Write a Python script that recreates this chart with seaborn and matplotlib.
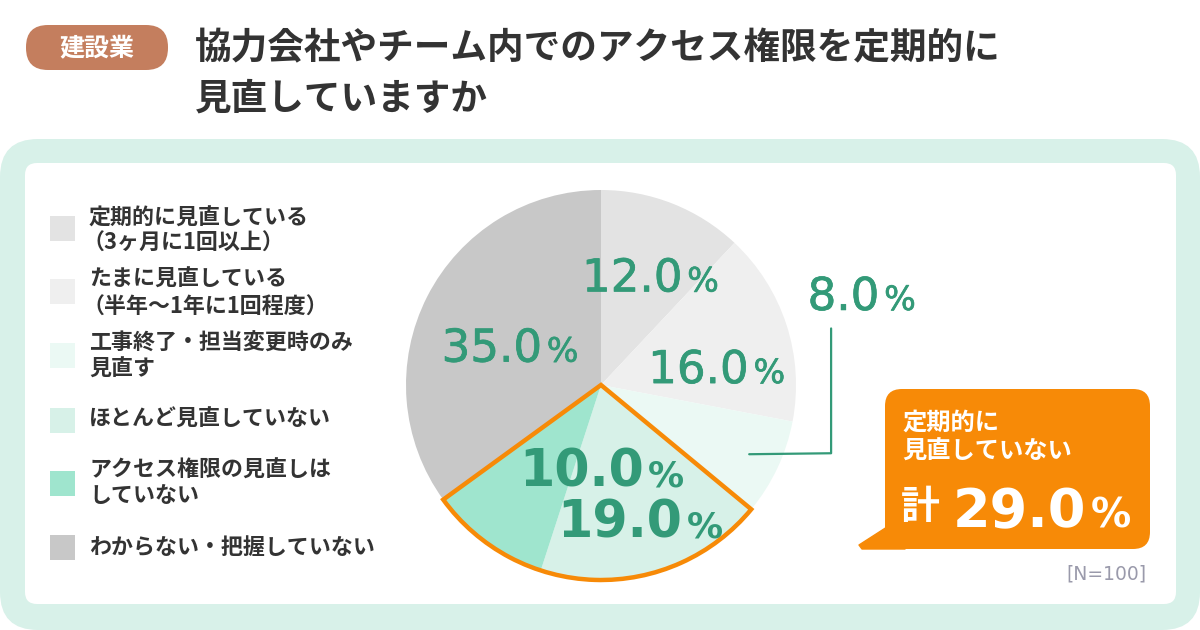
import numpy as np
import matplotlib
matplotlib.use("Agg")
import matplotlib.pyplot as plt
import matplotlib.patheffects as pe
from matplotlib.patches import FancyBboxPatch, Wedge, Rectangle, Polygon
import seaborn as sns

# ---------------- data ----------------
categories = [
    "定期的に見直している\n（3ヶ月に1回以上）",
    "たまに見直している\n（半年〜1年に1回程度）",
    "工事終了・担当変更時のみ\n見直す",
    "ほとんど見直していない",
    "アクセス権限の見直しは\nしていない",
    "わからない・把握していない",
]
values = [12.0, 16.0, 8.0, 19.0, 10.0, 35.0]
slice_colors = ["#e3e3e3", "#efefef", "#ebf9f4", "#d7f1e8", "#9fe5ce", "#c8c8c8"]
highlight_idx = [3, 4]
highlight_total = 29.0
badge_text = "建設業"
title_lines = ["協力会社やチーム内でのアクセス権限を定期的に", "見直していますか"]
callout_lines = ["定期的に", "見直していない"]
callout_prefix = "計"
n_text = "[N=100]"

# ---------------- style ----------------
sns.set_style("white")
plt.rcParams["font.family"] = ["Noto Sans CJK JP", "DejaVu Sans"]
palette = sns.color_palette(slice_colors)
GREEN = "#339a78"
ORANGE = "#f78a07"
DARK = "#333333"
MINT = "#d8f1e9"
NUMFONT = ["DejaVu Sans"]

fig = plt.figure(figsize=(12, 6.3), dpi=100)
fig.patch.set_facecolor("white")

# background axes in pixel coordinates (y down)
bg = fig.add_axes([0, 0, 1, 1])
bg.set_xlim(0, 1200)
bg.set_ylim(630, 0)
bg.axis("off")

# mint frame and white panel
bg.add_patch(FancyBboxPatch((38, 139 + 38), 1200 - 76, 491 - 76, boxstyle="round,pad=38",
                            fc=MINT, ec="none"))
bg.add_patch(FancyBboxPatch((25 + 12, 163 + 12), 1151 - 24, 441 - 24,
                            boxstyle="round,pad=12", fc="white", ec="none"))

# badge
bg.add_patch(FancyBboxPatch((26, 25), 142, 45, boxstyle="round,pad=0,rounding_size=22",
                            fc="#c47e5e", ec="none"))
bg.text(97, 48, badge_text, color="white", fontsize=18, fontweight="bold",
        ha="center", va="center")

# title
bg.text(195, 49, title_lines[0], color=DARK, fontsize=26.4, fontweight="bold",
        ha="left", va="center")
bg.text(195, 99, title_lines[1], color=DARK, fontsize=26.4, fontweight="bold",
        ha="left", va="center")

# legend
leg_sq_y = [228, 291, 355, 420, 483, 547]
leg_line_y = [[218, 243], [279, 307], [343, 369], [419], [470, 496], [547]]
for i, (lab, c) in enumerate(zip(categories, palette)):
    bg.add_patch(Rectangle((50, leg_sq_y[i] - 12.5), 25, 25, fc=c, ec="none"))
    for line, ly in zip(lab.split("\n"), leg_line_y[i]):
        x0 = 82 if line.startswith("（") else 89
        bg.text(x0, ly, line, color=DARK, fontsize=15.8, fontweight="bold",
                ha="left", va="center")

# callout box
bg.add_patch(FancyBboxPatch((885 + 17, 389 + 17), 265 - 34, 160 - 34,
                            boxstyle="round,pad=17", fc=ORANGE, ec="none"))
bg.add_patch(Polygon([(887, 527), (859, 545), (862, 549), (905, 549)],
                     closed=True, fc=ORANGE, ec=ORANGE, lw=1, joinstyle="round"))
bg.text(902, 423, callout_lines[0], color="white", fontsize=17.5, fontweight="bold",
        ha="left", va="center")
bg.text(902, 452, callout_lines[1], color="white", fontsize=17.5, fontweight="bold",
        ha="left", va="center")
bg.text(901, 508, callout_prefix, color="white", fontsize=28, fontweight="bold",
        ha="left", va="center")
bg.text(1086, 527, f"{highlight_total:.1f}", color="white", fontsize=39,
        fontweight="bold", ha="right", va="baseline", family=NUMFONT)
bg.text(1091, 527, "%", color="white", fontsize=29, fontweight="bold",
        ha="left", va="baseline", family=NUMFONT)

bg.text(1147, 574, n_text, color="#9a9aab", fontsize=13.5, ha="right", va="center",
        family=NUMFONT)

# ---------------- pie ----------------
cx, cy, R = 601, 385, 195
ax = fig.add_axes([(cx - R) / 1200, (630 - cy - R) / 630, 2 * R / 1200, 2 * R / 630])
ax.pie(values, colors=palette, startangle=90, counterclock=False, radius=1,
       wedgeprops=dict(linewidth=0), frame=False)
ax.set_xlim(-1, 1)
ax.set_ylim(-1, 1)
ax.set_aspect("auto")
ax.axis("off")

cum = np.concatenate([[0], np.cumsum(values)]) / sum(values) * 360
t_start = 90 - cum[highlight_idx[-1] + 1]
t_end = 90 - cum[highlight_idx[0]]
ax.add_patch(Wedge((0, 0), 1.0, t_start, t_end, fill=False, ec=ORANGE, lw=3.2,
                   joinstyle="miter", zorder=5, clip_on=False))

# label anchors (gap between number and %), baseline
label_pos = [(0.43, 0.48), (0.77, 0.01), (1.44, 0.385), (0.43, -0.78),
             (0.23, -0.52), (-0.29, 0.12)]
bold = [False, False, False, True, True, False]
medium = [pe.withStroke(linewidth=0.5, foreground=GREEN)]
for v, (x, y), b in zip(values, label_pos, bold):
    eff = None if b else medium
    ax.text(x - 0.012, y, f"{v:.1f}", color=GREEN, fontsize=36.5 if b else 32.5,
            fontweight="bold" if b else "normal", ha="right", va="baseline",
            family=NUMFONT, zorder=6, clip_on=False, path_effects=eff)
    ax.text(x + 0.012, y, "%", color=GREEN, fontsize=26 if b else 24,
            fontweight="bold" if b else "normal", ha="left", va="baseline",
            family=NUMFONT, zorder=6, clip_on=False, path_effects=eff)

# leader line for 8.0%
ax.plot([0.76, 1.18, 1.18], [-0.355, -0.35, 0.29], color=GREEN, lw=1.6,
        clip_on=False, zorder=6)

fig.savefig("out.png", dpi=100, facecolor="white")
